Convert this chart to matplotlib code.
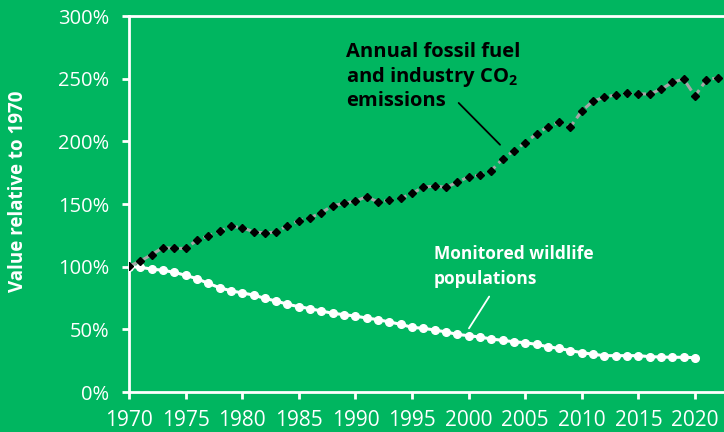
import numpy as np
import matplotlib
matplotlib.use('Agg')
import matplotlib.pyplot as plt

plt.rcParams['font.family'] = ['Open Sans', 'DejaVu Sans']
plt.rcParams['mathtext.fontset'] = 'custom'
plt.rcParams['mathtext.bf'] = 'Open Sans:bold'
plt.rcParams['mathtext.rm'] = 'Open Sans:bold'

# Данные (значения относительно 1970, %)
co2_years = list(range(1970, 2023))
co2_values = [100.3, 104.5, 109.6, 115.2, 114.6, 114.6, 121.0, 124.7, 128.2, 132.2,
              131.1, 127.9, 126.9, 127.7, 132.7, 136.7, 139.1, 143.1, 148.7, 150.5,
              152.4, 155.8, 151.6, 153.0, 154.5, 158.5, 163.3, 164.4, 163.3, 167.3,
              171.8, 172.9, 176.6, 185.9, 192.5, 198.9, 205.9, 211.7, 215.4, 211.7,
              224.2, 232.2, 235.1, 237.2, 238.3, 237.8, 237.8, 241.5, 247.1, 249.7,
              236.2, 248.9, 250.8]

wild_years = list(range(1970, 2021))
wild_values = [100.0, 99.5, 98.1, 97.1, 95.5, 93.1, 90.4, 86.7, 83.2, 80.8,
               79.0, 77.4, 74.7, 72.6, 70.0, 68.1, 66.5, 64.6, 62.8, 61.7,
               60.6, 59.0, 57.7, 55.9, 54.0, 51.6, 50.8, 49.5, 47.9, 46.0,
               44.9, 43.9, 42.3, 41.2, 40.1, 39.3, 38.0, 36.1, 34.8, 33.0,
               31.4, 30.1, 29.0, 29.0, 29.0, 29.0, 28.2, 27.9, 27.7, 27.7,
               27.4]

x_ticks = list(range(1970, 2021, 5))
y_ticks = [0, 50, 100, 150, 200, 250, 300]

bg = '#00B660'
fig = plt.figure(figsize=(7.24, 4.32), dpi=100, facecolor=bg)
ax = fig.add_axes([129/724, 40/432, 1 - 129/724, 376/432])
ax.set_facecolor(bg)

# Линия популяций: белая с кружками
ax.plot(wild_years, wild_values, color='white', linewidth=2.2, marker='o',
        markersize=5.5, zorder=3)

# Линия CO2: серый пунктир + чёрные ромбы (поверх белой линии)
ax.plot(co2_years, co2_values, color='#A6A6A6', linestyle=(0, (3, 1.5)), linewidth=2.2,
        zorder=2)
ax.plot(co2_years, co2_values, linestyle='none', marker='D', markersize=4.5,
        color='black', zorder=4)

ax.set_xlim(1970, 1970 + (724 - 129) / 11.32)
ax.set_ylim(0, 300)
ax.set_xticks(x_ticks)
ax.set_yticks(y_ticks)
ax.set_yticklabels([f'{v}%' for v in y_ticks])

for side in ['left', 'top', 'bottom']:
    ax.spines[side].set_color('white')
    ax.spines[side].set_linewidth(2)
ax.spines['right'].set_visible(False)
ax.tick_params(colors='white', width=2, length=5)
ax.tick_params(axis='x', pad=8, labelsize=15)
ax.tick_params(axis='y', pad=9, labelsize=14.5)

ax.set_ylabel('Value relative to 1970', color='white', fontsize=13.5,
              fontweight='bold')
ax.yaxis.set_label_coords(-0.17, 0.535)

# Подписи серий
ax.text(1989.2, 279, 'Annual fossil fuel\nand industry CO$_{\\mathbf{2}}$\nemissions',
        fontsize=14.5, fontweight='bold', color='black', va='top', ha='left',
        linespacing=1.15)
ax.annotate('', xy=(2002.95, 195.7), xytext=(1998.95, 232.2),
            arrowprops=dict(arrowstyle='-', color='black', linewidth=1.3))

ax.text(1996.9, 117, 'Monitored wildlife\npopulations', fontsize=12.5,
        fontweight='bold', color='white', va='top', ha='left', linespacing=1.45)
ax.annotate('', xy=(1999.9, 48.9), xytext=(2001.95, 78),
            arrowprops=dict(arrowstyle='-', color='white', linewidth=1.3))

plt.savefig('out.png', dpi=100, facecolor=bg)
